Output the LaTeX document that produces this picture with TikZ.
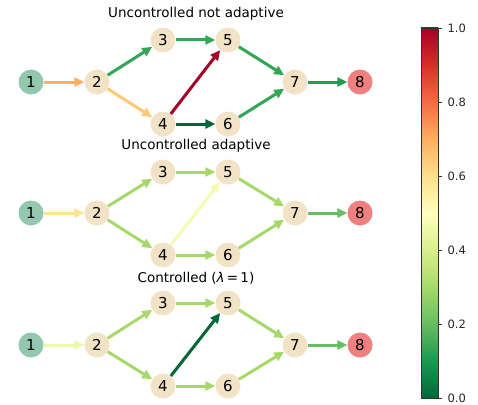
\documentclass[tikz,border=0pt]{standalone}
\usepackage{fontspec}
\setmainfont{DejaVu Sans}
\usetikzlibrary{arrows.meta}
% node colours
\definecolor{wheatnode}{HTML}{F2E2C6}
\definecolor{srcnode}{HTML}{93C7AE}
\definecolor{snknode}{HTML}{F08080}
% RdYlGn_r stops
\definecolor{rg0}{HTML}{006837}
\definecolor{rg1}{HTML}{1A9850}
\definecolor{rg2}{HTML}{66BD63}
\definecolor{rg3}{HTML}{A6D96A}
\definecolor{rg4}{HTML}{D9EF8B}
\definecolor{rg5}{HTML}{FFFFBF}
\definecolor{rg6}{HTML}{FEE08B}
\definecolor{rg7}{HTML}{FDAE61}
\definecolor{rg8}{HTML}{F46D43}
\definecolor{rg9}{HTML}{D73027}
\definecolor{rg10}{HTML}{A50026}
% edge colours
\definecolor{orangeflow}{HTML}{FDB064}
\definecolor{peachflow}{HTML}{FEC877}
\definecolor{greenflow}{HTML}{33A556}
\definecolor{darkgreenflow}{HTML}{209C50}
\definecolor{yellowflow}{HTML}{FEE391}
\definecolor{paleflow}{HTML}{F6FBB3}
\definecolor{limeflow}{HTML}{EEF8A8}
\tikzset{
  vert/.style={circle,minimum size=25pt,inner sep=0pt,fill=wheatnode,
    font=\fontsize{15}{15}\selectfont},
  src/.style={vert,fill=srcnode},
  snk/.style={vert,fill=snknode},
  flow/.style={-{Triangle[length=10pt,width=9pt]},line width=3pt},
  paneltitle/.style={font=\fontsize{13.5}{13.5}\selectfont},
  ticklabel/.style={anchor=west,font=\fontsize{11.5}{11.5}\selectfont,text=black!85}
}

\begin{document}
\begin{tikzpicture}[x=1pt,y=-1pt]
\useasboundingbox (0,0) rectangle (478,404);
% uncontrolled not adaptive
\node[paneltitle] (ta) at (196,14) {Uncontrolled not adaptive};
\node[src] (a1) at (31,82) {1};
\node[vert] (a2) at (97,82) {2};
\node[vert] (a3) at (163,40) {3};
\node[vert] (a4) at (163,124) {4};
\node[vert] (a5) at (228,40) {5};
\node[vert] (a6) at (228,124) {6};
\node[vert] (a7) at (295,82) {7};
\node[snk] (a8) at (360,82) {8};
\draw[flow,orangeflow] (a1) -- (a2);
\draw[flow,greenflow] (a2) -- (a3);
\draw[flow,peachflow] (a2) -- (a4);
\draw[flow,greenflow] (a3) -- (a5);
\draw[flow,rg10] (a4) -- (a5);
\draw[flow,rg0] (a4) -- (a6);
\draw[flow,greenflow] (a5) -- (a7);
\draw[flow,greenflow] (a6) -- (a7);
\draw[flow,darkgreenflow] (a7) -- (a8);
%
% uncontrolled adaptive
%
\node[paneltitle] (tb) at (196,146) {Uncontrolled adaptive};
\node[src] (b1) at (31,213) {1};
\node[vert] (b2) at (97,213) {2};
\node[vert] (b3) at (163,172) {3};
\node[vert] (b4) at (163,255) {4};
\node[vert] (b5) at (228,172) {5};
\node[vert] (b6) at (228,255) {6};
\node[vert] (b7) at (295,213) {7};
\node[snk] (b8) at (360,213) {8};
\draw[flow,yellowflow] (b1) -- (b2);
\draw[flow,rg3] (b2) -- (b3);
\draw[flow,rg3] (b2) -- (b4);
\draw[flow,rg3] (b3) -- (b5);
\draw[flow,paleflow] (b4) -- (b5);
\draw[flow,rg3] (b4) -- (b6);
\draw[flow,rg3] (b5) -- (b7);
\draw[flow,rg3] (b6) -- (b7);
\draw[flow,rg2] (b7) -- (b8);
%
% controlled
%
\node[paneltitle] (tc) at (196,278) {Controlled (\textit{λ}\,=\,1)};
\node[src] (c1) at (31,345) {1};
\node[vert] (c2) at (97,345) {2};
\node[vert] (c3) at (163,303) {3};
\node[vert] (c4) at (163,386) {4};
\node[vert] (c5) at (228,303) {5};
\node[vert] (c6) at (228,386) {6};
\node[vert] (c7) at (295,345) {7};
\node[snk] (c8) at (360,345) {8};
\draw[flow,limeflow] (c1) -- (c2);
\draw[flow,rg3] (c2) -- (c3);
\draw[flow,rg3] (c2) -- (c4);
\draw[flow,rg3] (c3) -- (c5);
\draw[flow,rg0] (c4) -- (c5);
\draw[flow,rg3] (c4) -- (c6);
\draw[flow,rg3] (c5) -- (c7);
\draw[flow,rg3] (c6) -- (c7);
\draw[flow,rg2] (c7) -- (c8);
%
% colorbar
%
\shade[bottom color=rg0,top color=rg1] (421,361) rectangle (438,398);
\shade[bottom color=rg1,top color=rg2] (421,324) rectangle (438,361.4);
\shade[bottom color=rg2,top color=rg3] (421,287) rectangle (438,324.4);
\shade[bottom color=rg3,top color=rg4] (421,250) rectangle (438,287.4);
\shade[bottom color=rg4,top color=rg5] (421,213) rectangle (438,250.4);
\shade[bottom color=rg5,top color=rg6] (421,176) rectangle (438,213.4);
\shade[bottom color=rg6,top color=rg7] (421,139) rectangle (438,176.4);
\shade[bottom color=rg7,top color=rg8] (421,102) rectangle (438,139.4);
\shade[bottom color=rg8,top color=rg9] (421,65) rectangle (438,102.4);
\shade[bottom color=rg9,top color=rg10] (421,28) rectangle (438,65.4);
\draw[black!80,line width=0.8pt] (421,28) rectangle (438,398);
%
\draw[black!80,line width=0.8pt] (438,398) -- (441.5,398);
\draw[black!80,line width=0.8pt] (438,324) -- (441.5,324);
\draw[black!80,line width=0.8pt] (438,250) -- (441.5,250);
\draw[black!80,line width=0.8pt] (438,176) -- (441.5,176);
\draw[black!80,line width=0.8pt] (438,102) -- (441.5,102);
\draw[black!80,line width=0.8pt] (438,28) -- (441.5,28);
\node[ticklabel] (k0) at (444,398) {0.0};
\node[ticklabel] (k2) at (444,324) {0.2};
\node[ticklabel] (k4) at (444,250) {0.4};
\node[ticklabel] (k6) at (444,176) {0.6};
\node[ticklabel] (k8) at (444,102) {0.8};
\node[ticklabel] (k10) at (444,28) {1.0};
\end{tikzpicture}
\end{document}
